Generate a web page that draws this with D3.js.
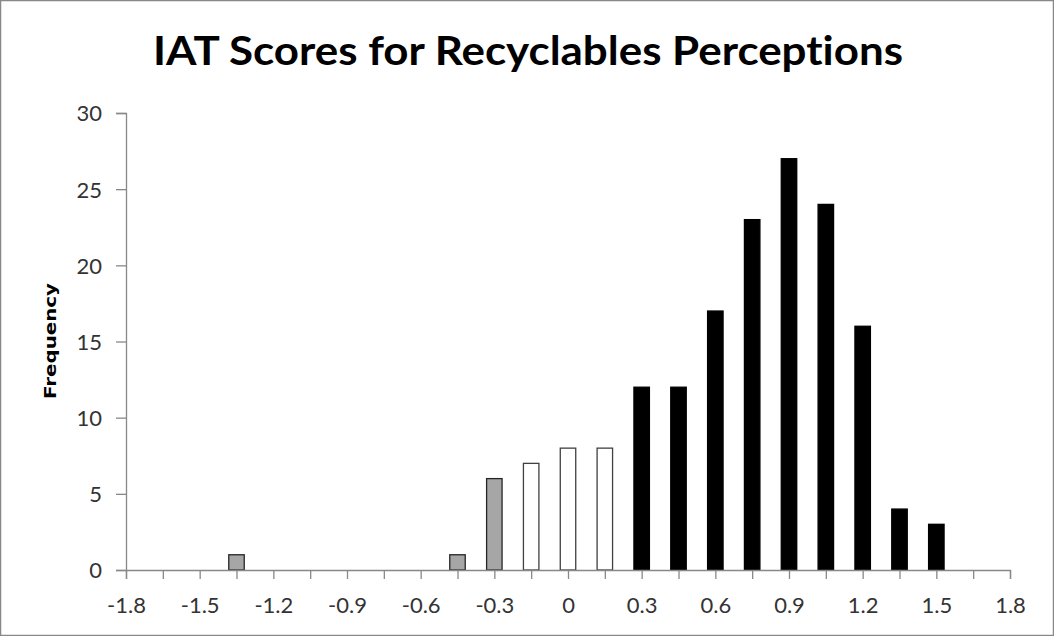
<!DOCTYPE html>
<html><head><meta charset="utf-8">
<script src="https://cdn.jsdelivr.net/npm/d3@7"></script>
<style>html,body{margin:0;padding:0;background:#fff;}svg{display:block;}text{font-variant-ligatures:none;}</style>
</head><body>
<svg id="c" width="1054" height="636"></svg>
<script>
const binCenters = [-1.35, -0.45, -0.3, -0.15, 0, 0.15, 0.3, 0.45, 0.6, 0.75, 0.9, 1.05, 1.2, 1.35, 1.5];
const frequencies = [1, 1, 6, 7, 8, 8, 12, 12, 17, 23, 27, 24, 16, 4, 3];
const groups = ["gray", "gray", "gray", "white", "white", "white", "black", "black", "black", "black", "black", "black", "black", "black", "black"];
const xTickValues = [-1.8, -1.5, -1.2, -0.9, -0.6, -0.3, 0, 0.3, 0.6, 0.9, 1.2, 1.5, 1.8];
const yTickValues = [0, 5, 10, 15, 20, 25, 30];
const titleText = "IAT Scores for Recyclables Perceptions";
const yLabel = "Frequency";

const fills = {gray: "#a6a6a6", white: "#ffffff", black: "#000000"};
const strokes = {gray: "#262626", white: "#404040", black: "#000000"};

const svg = d3.select("#c");
const W = 1054, H = 636;
svg.append("rect").attr("x", 0.5).attr("y", 0.5).attr("width", W - 1).attr("height", H - 1)
  .attr("fill", "#fff").attr("stroke", "#888").attr("stroke-width", 1.5);

const x = d3.scaleLinear().domain([-1.8, 1.8]).range([126, 1010]);
const y = d3.scaleLinear().domain([0, 30]).range([570, 113]);
const font = "Lato, 'Open Sans', sans-serif";

svg.append("text").attr("x", 153).attr("y", 64.5)
  .attr("font-family", font).attr("font-weight", "bold").attr("font-size", 39.5)
  .attr("textLength", 750).attr("lengthAdjust", "spacingAndGlyphs")
  .attr("fill", "#000").text(titleText);

// bars
const bw = (x(0.15) - x(0)) * 0.42;
const data = binCenters.map((c, i) => ({c, v: frequencies[i], g: groups[i]}));
svg.append("g").selectAll("rect").data(data).join("rect")
  .attr("x", d => x(d.c) - bw / 2)
  .attr("y", d => y(d.v))
  .attr("width", bw)
  .attr("height", d => y(0) - y(d.v))
  .attr("fill", d => fills[d.g])
  .attr("stroke", d => strokes[d.g])
  .attr("stroke-width", 1.3);

// y axis
const yAxis = d3.axisLeft(y).tickValues(yTickValues).tickSize(10).tickPadding(14).tickFormat(d => String(d));
const gy = svg.append("g").attr("transform", `translate(${x(-1.8)},0)`).call(yAxis);
gy.select(".domain").attr("stroke", "#888").attr("stroke-width", 1.3);
gy.selectAll(".tick line").attr("stroke", "#888").attr("stroke-width", 1.3);
gy.selectAll(".tick text").attr("font-family", font).attr("font-size", 22).attr("fill", "#333").attr("dy", "0.36em");

// x axis: minor ticks every 0.15
const minorTicks = d3.range(25).map(i => -1.8 + i * 0.15);
const gxm = svg.append("g").attr("transform", `translate(0,${y(0)})`)
  .call(d3.axisBottom(x).tickValues(minorTicks).tickSize(9).tickFormat(""));
gxm.select(".domain").attr("stroke", "#888").attr("stroke-width", 1.3);
gxm.selectAll(".tick line").attr("stroke", "#888").attr("stroke-width", 1.3);

const gx = svg.append("g").attr("transform", `translate(0,${y(0)})`)
  .call(d3.axisBottom(x).tickValues(xTickValues).tickSize(0).tickPadding(27).tickFormat(d => String(d)));
gx.select(".domain").remove();
gx.selectAll(".tick text").attr("font-family", font).attr("font-size", 22).attr("fill", "#333");

// y label
svg.append("text").attr("transform", `translate(56,341) rotate(-90)`)
  .attr("x", -58).attr("y", 0)
  .attr("font-family", "'DejaVu Sans', sans-serif").attr("font-weight", "bold")
  .attr("font-size", 16.5).attr("textLength", 116).attr("lengthAdjust", "spacingAndGlyphs")
  .attr("fill", "#000").text(yLabel);
</script>
</body></html>
